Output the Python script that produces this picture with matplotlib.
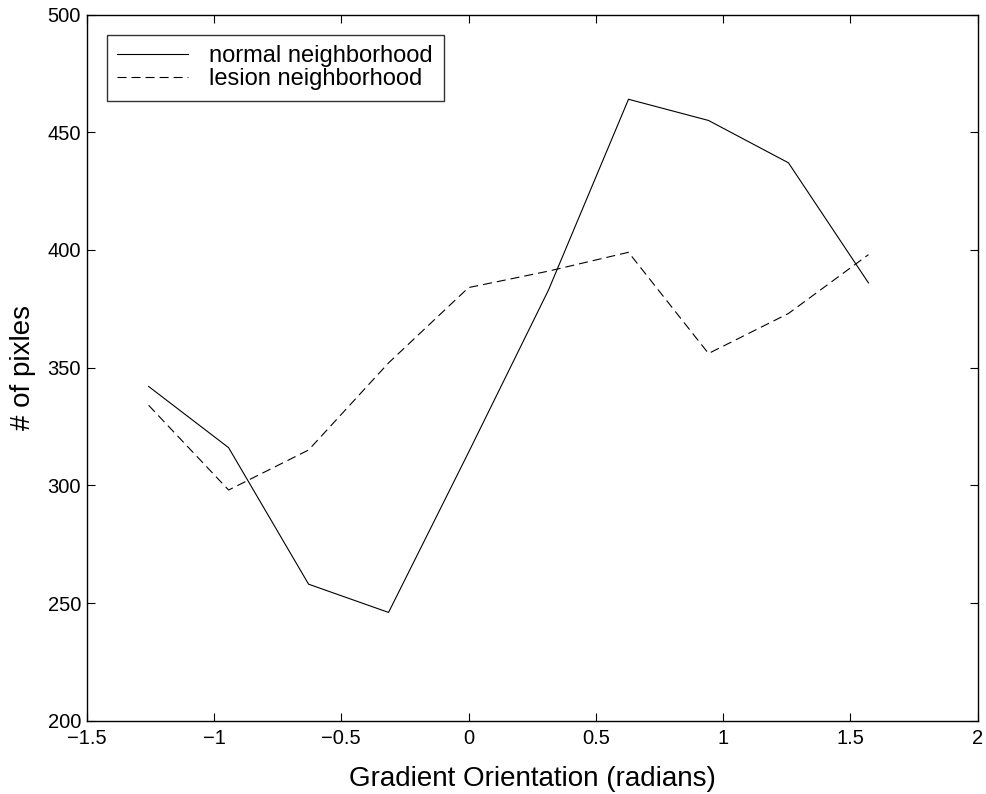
import numpy as np
import matplotlib
matplotlib.use("Agg")
import matplotlib.pyplot as plt

plt.rcParams['font.family'] = ['Liberation Sans', 'DejaVu Sans']
plt.rcParams['lines.scale_dashes'] = False

# gradient orientation bins (radians)
orientation = np.array([-1.2566, -0.9425, -0.6283, -0.3142, 0.0, 0.3142, 0.6283, 0.9425, 1.2566, 1.5708])
normal = [342, 316, 258, 246, 314, 383, 464, 455, 437, 386]
lesion = [334, 298, 315, 352, 384, 391, 399, 356, 373, 398]

fig = plt.figure(figsize=(9.87, 7.94), dpi=100)
ax = fig.add_axes([0.0878, 0.0923, 0.9028, 0.8894])

ax.plot(orientation, normal, color='k', lw=0.8, label='normal neighborhood')
ax.plot(orientation, lesion, color='k', lw=0.8, dashes=(6.5, 3.6), label='lesion neighborhood')

ax.set_xlim(-1.5, 2)
ax.set_ylim(200, 500)
ax.set_xticks(np.arange(-1.5, 2.01, 0.5))
ax.set_xticklabels(['\u22121.5', '\u22121', '\u22120.5', '0', '0.5', '1', '1.5', '2'])
ax.set_yticks(np.arange(200, 501, 50))
ax.tick_params(direction='in', length=6, width=0.8, top=True, right=True, labelsize=14.5)
ax.tick_params(axis='x', pad=6)
ax.tick_params(axis='y', pad=4)
for s in ax.spines.values():
    s.set_linewidth(1.0)

ax.set_xlabel('Gradient Orientation (radians)', fontsize=20, labelpad=13)
ax.set_ylabel('# of pixles', fontsize=20, labelpad=8)

leg = ax.legend(loc='upper left', fontsize=17, frameon=True, fancybox=False,
                edgecolor='k', handlelength=3.0, handletextpad=0.9,
                borderaxespad=0.85, labelspacing=0.05, borderpad=0.45)
leg.get_frame().set_linewidth(1.0)

fig.savefig('out.png', dpi=100)
